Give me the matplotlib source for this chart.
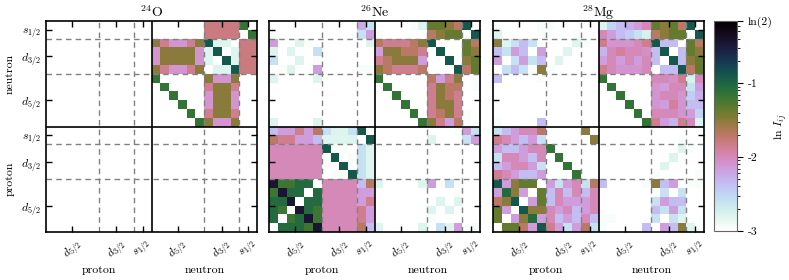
import numpy as np
import matplotlib
matplotlib.use("Agg")
import matplotlib.pyplot as plt
from matplotlib.colors import LogNorm
from matplotlib.ticker import LogLocator, NullFormatter

plt.rcParams['font.family'] = 'serif'
plt.rcParams['font.serif'] = ['cmr10']
plt.rcParams['mathtext.fontset'] = 'cm'
plt.rcParams['axes.unicode_minus'] = False

_ = np.nan

nuclei = [r'$^{24}$O', r'$^{26}$Ne', r'$^{28}$Mg']
orbitals = [r'$d_{5/2}$', r'$d_{3/2}$', r'$s_{1/2}$']
orbital_size = [6, 4, 2]
species = ['proton', 'neutron']

# log10 of the mutual information I_ij, row i = orbital index (proton d5/2 first)
# column groups: p d5/2 (6) | p d3/2 (4) | p s1/2 (2) | n d5/2 (6) | n d3/2 (4) | n s1/2 (2)
logI_O24 = [
    [_] * 24, [_] * 24, [_] * 24, [_] * 24, [_] * 24, [_] * 24,
    [_] * 24, [_] * 24, [_] * 24, [_] * 24, [_] * 24, [_] * 24,
    [_, _, _, _, _, _, _, _, _, _, _, _, _, _, _, _, _, -1.15, -1.5, -2.1, -2.1, -1.5, _, _],
    [_, _, _, _, _, _, _, _, _, _, _, _, _, _, _, _, -1.15, _, -1.85, -1.5, -1.5, -1.85, _, _],
    [_, _, _, _, _, _, _, _, _, _, _, _, _, _, _, -1.15, _, _, -2.1, -1.5, -1.5, -2.1, _, _],
    [_, _, _, _, _, _, _, _, _, _, _, _, _, _, -1.15, _, _, _, -2.1, -1.5, -1.5, -2.1, _, _],
    [_, _, _, _, _, _, _, _, _, _, _, _, _, -1.15, _, _, _, _, -1.85, -1.5, -1.5, -1.85, _, _],
    [_, _, _, _, _, _, _, _, _, _, _, _, -1.15, _, _, _, _, _, -1.5, -2.1, -2.1, -1.5, _, _],
    [_, _, _, _, _, _, _, _, _, _, _, _, -1.5, -1.85, -2.1, -2.1, -1.85, -1.5, _, -2.8, -2.8, -0.9, -1.8, -1.8],
    [_, _, _, _, _, _, _, _, _, _, _, _, -2.1, -1.5, -1.5, -1.5, -1.5, -2.1, -2.8, _, -0.9, -2.8, -1.8, -1.8],
    [_, _, _, _, _, _, _, _, _, _, _, _, -2.1, -1.5, -1.5, -1.5, -1.5, -2.1, -2.8, -0.9, _, -2.8, -1.8, -1.8],
    [_, _, _, _, _, _, _, _, _, _, _, _, -1.5, -1.85, -2.1, -2.1, -1.85, -1.5, -0.9, -2.8, -2.8, _, -1.8, -1.8],
    [_, _, _, _, _, _, _, _, _, _, _, _, _, _, _, _, _, _, -1.8, -1.8, -1.8, -1.8, _, -1.15],
    [_, _, _, _, _, _, _, _, _, _, _, _, _, _, _, _, _, _, -1.8, -1.8, -1.8, -1.8, -1.15, _],
]

logI_Ne26 = [
    [_, -1.05, -1.05, -1.05, -1.2, -0.45, -2.0, -2.0, -2.0, -2.0, -1.7, -2.35, -2.8, _, _, _, _, -2.8, _, -2.6, -2.8, -2.15, _, -2.95],
    [-1.05, _, -1.2, -1.05, -0.45, -1.2, -2.0, -2.0, -2.0, -2.0, -1.85, -2.15, _, _, _, _, _, _, -2.95, _, _, _, _, _],
    [-1.05, -1.2, _, -0.45, -1.05, -1.2, -2.0, -2.0, -2.0, -2.0, -1.85, -2.15, _, _, _, _, _, _, -2.8, _, -2.8, _, _, _],
    [-1.05, -1.05, -0.45, _, -1.05, -1.05, -2.0, -2.0, -2.0, -2.0, -2.15, -1.85, _, _, _, _, _, _, _, -2.8, _, -2.8, _, _],
    [-1.2, -0.45, -1.05, -1.05, _, -1.05, -2.0, -2.0, -2.0, -2.0, -2.15, -2.15, _, _, _, _, _, _, _, _, _, -2.95, _, _],
    [-0.45, -1.2, -1.2, -1.05, -1.05, _, -2.0, -2.0, -2.0, -2.0, -2.35, -1.7, -2.8, _, _, _, _, -2.8, -2.15, -2.95, -2.6, -2.95, _, _],
    [-2.0, -2.0, -2.0, -2.0, -2.0, -2.0, _, -2.95, -2.95, -0.9, -2.6, -2.8, _, _, _, _, _, _, _, _, _, _, _, _],
    [-2.0, -2.0, -2.0, -2.0, -2.0, -2.0, -2.95, _, -0.9, -2.95, -2.6, -2.8, _, _, _, _, _, _, _, _, _, _, _, _],
    [-2.0, -2.0, -2.0, -2.0, -2.0, -2.0, -2.95, -0.9, _, -2.95, -2.6, -2.8, _, _, _, _, _, _, _, _, _, _, _, _],
    [-2.0, -2.0, -2.0, -2.0, -2.0, -2.0, -0.9, -2.95, -2.95, _, -2.6, -2.8, _, _, _, _, _, _, _, _, _, _, _, _],
    [-1.7, -1.85, -1.85, -2.15, -2.15, -2.35, -2.8, -2.8, -2.8, -2.8, _, -0.9, _, _, _, _, _, _, -2.8, _, _, _, -2.6, -2.15],
    [-2.35, -2.15, -2.15, -1.85, -2.15, -1.7, -2.6, -2.8, -2.8, -2.6, -0.9, _, _, _, _, _, _, _, _, _, _, -2.95, -2.15, -2.6],
    [-2.8, _, _, _, _, -2.8, _, _, _, _, _, _, _, _, _, _, _, -1.15, -1.5, -1.85, -2.15, -1.7, -2.95, _],
    [_, _, _, _, _, _, _, _, _, _, _, _, _, _, _, _, -1.15, _, -1.85, -1.7, -1.5, -1.85, -2.95, _],
    [_, _, _, _, _, _, _, _, _, _, _, _, _, _, _, -1.15, _, _, -1.85, -1.5, -1.5, -1.85, _, _],
    [_, _, _, _, _, _, _, _, _, _, _, _, _, _, -1.15, _, _, _, -1.85, -1.5, -1.7, -1.85, _, _],
    [_, _, _, _, _, _, _, _, _, _, _, _, _, -1.15, _, _, _, _, -1.85, -1.5, -1.7, -1.7, _, -2.95],
    [-2.8, _, _, _, _, -2.8, _, _, _, _, _, _, -1.15, _, _, _, _, _, -1.7, -2.15, -1.85, -1.5, _, -2.95],
    [_, -2.95, -2.8, _, _, -2.15, _, _, _, _, -2.95, -2.95, -1.5, -1.7, -1.85, -1.85, -1.85, -1.7, _, _, _, -0.9, -1.7, -1.35],
    [-2.6, _, _, -2.8, _, -2.95, _, _, _, _, _, _, -1.85, -1.7, -1.5, -1.5, -1.5, -2.15, _, _, -0.9, _, -1.5, -1.35],
    [-2.8, _, -2.8, _, _, -2.6, _, _, _, _, _, _, -2.15, -1.5, -1.5, -1.7, -1.7, -1.85, _, -0.9, _, _, -1.35, -1.5],
    [-2.15, _, _, -2.8, -2.95, _, _, _, _, _, _, -2.8, -1.7, -1.85, -1.85, -1.85, -1.7, -1.5, -0.9, _, _, _, -1.35, -1.7],
    [-2.95, _, _, _, _, _, _, _, _, _, -2.6, -2.15, -2.95, _, _, _, _, _, -1.7, -1.5, -1.35, -1.35, _, -0.9],
    [_, _, _, _, _, _, _, _, _, _, -2.25, -2.6, _, _, _, _, -2.95, -2.8, -1.35, -1.35, -1.5, -1.7, -0.9, _],
]

logI_Mg28 = [
    [_, -1.35, -1.35, -1.7, -2.15, -0.9, -1.85, -2.15, -2.6, -2.15, -1.7, -2.6, -2.95, _, _, _, _, -2.35, _, -2.15, -2.35, -1.5, -2.8, _],
    [-1.35, _, -2.15, -1.5, -1.05, -2.15, -2.0, -2.35, -2.15, -2.35, -2.0, -2.35, -2.95, -2.95, _, _, _, _, -2.6, _, -2.6, -2.8, _, _],
    [-1.35, -2.15, _, -0.9, -1.5, -1.5, -2.0, -2.15, -2.0, -2.35, -2.15, -2.0, _, _, _, _, _, _, -2.35, -2.6, -2.15, -2.6, _, _],
    [-1.7, -1.5, -0.9, _, -2.15, -1.35, -2.35, -2.0, -2.15, -2.15, -2.15, -2.0, _, _, _, _, _, _, -2.6, -2.15, -2.35, -2.35, _, _],
    [-2.15, -1.05, -1.5, -2.15, _, -1.35, -2.35, -2.0, -2.35, -2.0, -2.35, -2.0, _, _, _, _, _, _, -2.95, -2.6, _, -2.6, _, _],
    [-0.9, -2.15, -1.5, -1.35, -1.35, _, -2.15, -2.6, -2.15, -2.0, -2.6, -1.7, -2.35, _, _, _, _, -2.95, -1.5, -2.35, -2.15, _, -2.95, -2.95],
    [-1.85, -2.0, -2.15, -2.35, -2.35, -2.15, _, _, _, -1.15, _, _, _, _, _, _, _, _, -2.95, _, _, _, _, -2.95],
    [-2.35, -2.15, -2.0, -2.0, -2.15, -2.6, _, _, -1.15, _, _, _, _, _, _, _, _, _, _, -2.8, _, _, _, _],
    [-2.6, -2.0, -2.0, -2.15, -2.35, -2.0, _, -1.15, _, _, _, _, _, _, _, _, _, _, _, _, -2.8, _, _, _],
    [-2.15, -2.35, -2.35, -2.15, -2.0, -2.0, -1.15, _, _, _, _, _, _, _, _, _, _, _, _, _, _, -2.8, -2.95, _],
    [-1.85, -2.0, -2.15, -2.35, -2.15, -2.6, _, _, _, _, _, -1.5, _, _, _, _, _, _, _, _, _, -2.95, _, _],
    [-2.6, -2.35, -2.15, -2.0, -2.0, -1.7, _, _, _, _, -1.5, _, _, _, _, _, _, _, _, _, _, _, _, _],
    [-2.95, _, _, _, _, -2.35, _, _, _, _, _, _, _, _, _, _, _, -1.15, -1.85, -2.15, -2.3, -1.85, -2.0, -2.8],
    [_, _, _, _, _, _, _, _, _, _, _, _, _, _, _, _, -1.15, _, -2.0, -2.0, -2.0, -2.1, -2.15, -2.5],
    [_, _, _, _, _, _, _, _, _, _, _, _, _, _, _, -1.15, _, _, -2.1, -2.15, -1.9, -2.1, -2.35, -2.35],
    [_, _, _, _, _, _, _, _, _, _, _, _, _, _, -1.15, _, _, _, -2.1, -2.0, -2.0, -2.1, -2.45, -2.25],
    [_, _, _, _, _, _, _, _, _, _, _, _, _, -1.15, _, _, _, _, -2.1, -2.15, -2.0, -2.0, -2.6, -2.15],
    [-2.35, _, _, _, _, -2.95, _, _, _, _, _, _, -1.15, _, _, _, _, _, -2.0, -2.0, -2.05, -1.85, -2.75, -2.0],
    [_, -2.6, -2.35, -2.6, -2.95, -1.5, -2.95, _, _, _, _, _, -1.85, -2.0, -2.1, -2.1, -2.1, -2.0, _, -2.35, -2.35, -0.9, -1.7, -1.35],
    [-2.15, _, -2.6, -2.15, -2.6, -2.35, _, -2.8, _, _, _, _, -2.15, -2.0, -2.15, -2.0, -2.15, -2.0, -2.35, _, -0.9, -2.35, -1.5, -1.35],
    [-2.35, -2.6, -2.15, -2.35, _, -2.15, _, _, -2.8, _, _, _, -2.3, -2.0, -1.9, -2.0, -2.0, -2.05, -2.35, -0.9, _, -2.35, -1.35, -1.5],
    [-1.5, -2.8, -2.6, -2.35, -2.6, _, _, _, _, -2.8, -2.95, _, -1.85, -2.1, -2.1, -2.1, -2.0, -1.85, -0.9, -2.35, -2.35, _, -1.35, -1.7],
    [-2.8, _, _, _, _, -2.95, _, _, _, -2.95, _, _, -2.0, -2.15, -2.35, -2.45, -2.6, -2.75, -1.7, -1.5, -1.35, -1.35, _, -0.9],
    [_, _, _, _, _, -2.95, -2.95, _, _, _, _, _, -2.8, -2.5, -2.35, -2.25, -2.15, -2.0, -1.35, -1.5, -1.35, -1.7, -0.9, _],
]

data = [logI_O24, logI_Ne26, logI_Mg28]

n_orb = 2 * sum(orbital_size)
edges = np.arange(n_orb + 1)
bounds = np.cumsum([0] + orbital_size + orbital_size)
tick_pos = (bounds[:-1] + bounds[1:]) / 2
tick_lab = orbitals + orbitals

norm = LogNorm(vmin=1e-3, vmax=np.log(2))
cmap = plt.get_cmap('cubehelix_r')

fig = plt.figure(figsize=(7.89, 2.80), dpi=100)
W, H = 789, 280
lefts = [46, 269, 493]

for k, name in enumerate(nuclei):
    ax = fig.add_axes([lefts[k] / W, 48 / H, 211 / W, 211 / H])
    vals = np.ma.masked_invalid(10 ** np.array(data[k], dtype=float))
    mesh = ax.pcolormesh(edges, edges, vals, cmap=cmap, norm=norm)
    for b in bounds[[1, 2, 4, 5]]:
        ax.axhline(b, color='0.5', ls=(0, (4, 3)), lw=1)
        ax.axvline(b, color='0.5', ls=(0, (4, 3)), lw=1)
    ax.axhline(bounds[3], color='k', lw=1.2)
    ax.axvline(bounds[3], color='k', lw=1.2)
    ax.set_xlim(0, n_orb)
    ax.set_ylim(0, n_orb)
    ax.set_xticks(tick_pos)
    ax.set_xticklabels(tick_lab, rotation=45, fontsize=8.5)
    ax.set_yticks(tick_pos)
    if k == 0:
        ax.set_yticklabels(tick_lab, fontsize=8.5)
        for s, yc in zip(species, [6, 18]):
            ax.text(-0.17, yc, s, transform=ax.get_yaxis_transform(),
                    rotation=90, ha='center', va='center', fontsize=8.5)
    else:
        ax.set_yticklabels([])
    ax.tick_params(direction='in', top=True, right=True, length=4, width=1)
    for sp in ax.spines.values():
        sp.set_linewidth(1.2)
    for s, xc in zip(species, [6, 18]):
        ax.text(xc, -0.18, s, transform=ax.get_xaxis_transform(),
                ha='center', va='center', fontsize=8.5)
    ax.set_title(name, fontsize=10, pad=3)

cax = fig.add_axes([714 / W, 49 / H, 23 / W, 210 / H])
cb = fig.colorbar(mesh, cax=cax)
cb.set_ticks([1e-3, 1e-2, 1e-1, np.log(2)])
cb.set_ticklabels(['-3', '-2', '-1', 'ln(2)'])
cb.minorticks_on()
cb.ax.yaxis.set_minor_locator(LogLocator(base=10, subs=np.arange(2, 10)))
cb.ax.yaxis.set_minor_formatter(NullFormatter())
cb.ax.tick_params(which='major', labelsize=8.5, length=4, width=0.8)
cb.ax.tick_params(which='minor', length=2.5, width=0.6)
cb.set_label(r'ln $I_{ij}$', fontsize=8.5, labelpad=0)
cb.outline.set_edgecolor('0.4')

fig.savefig('out.png', dpi=100)
